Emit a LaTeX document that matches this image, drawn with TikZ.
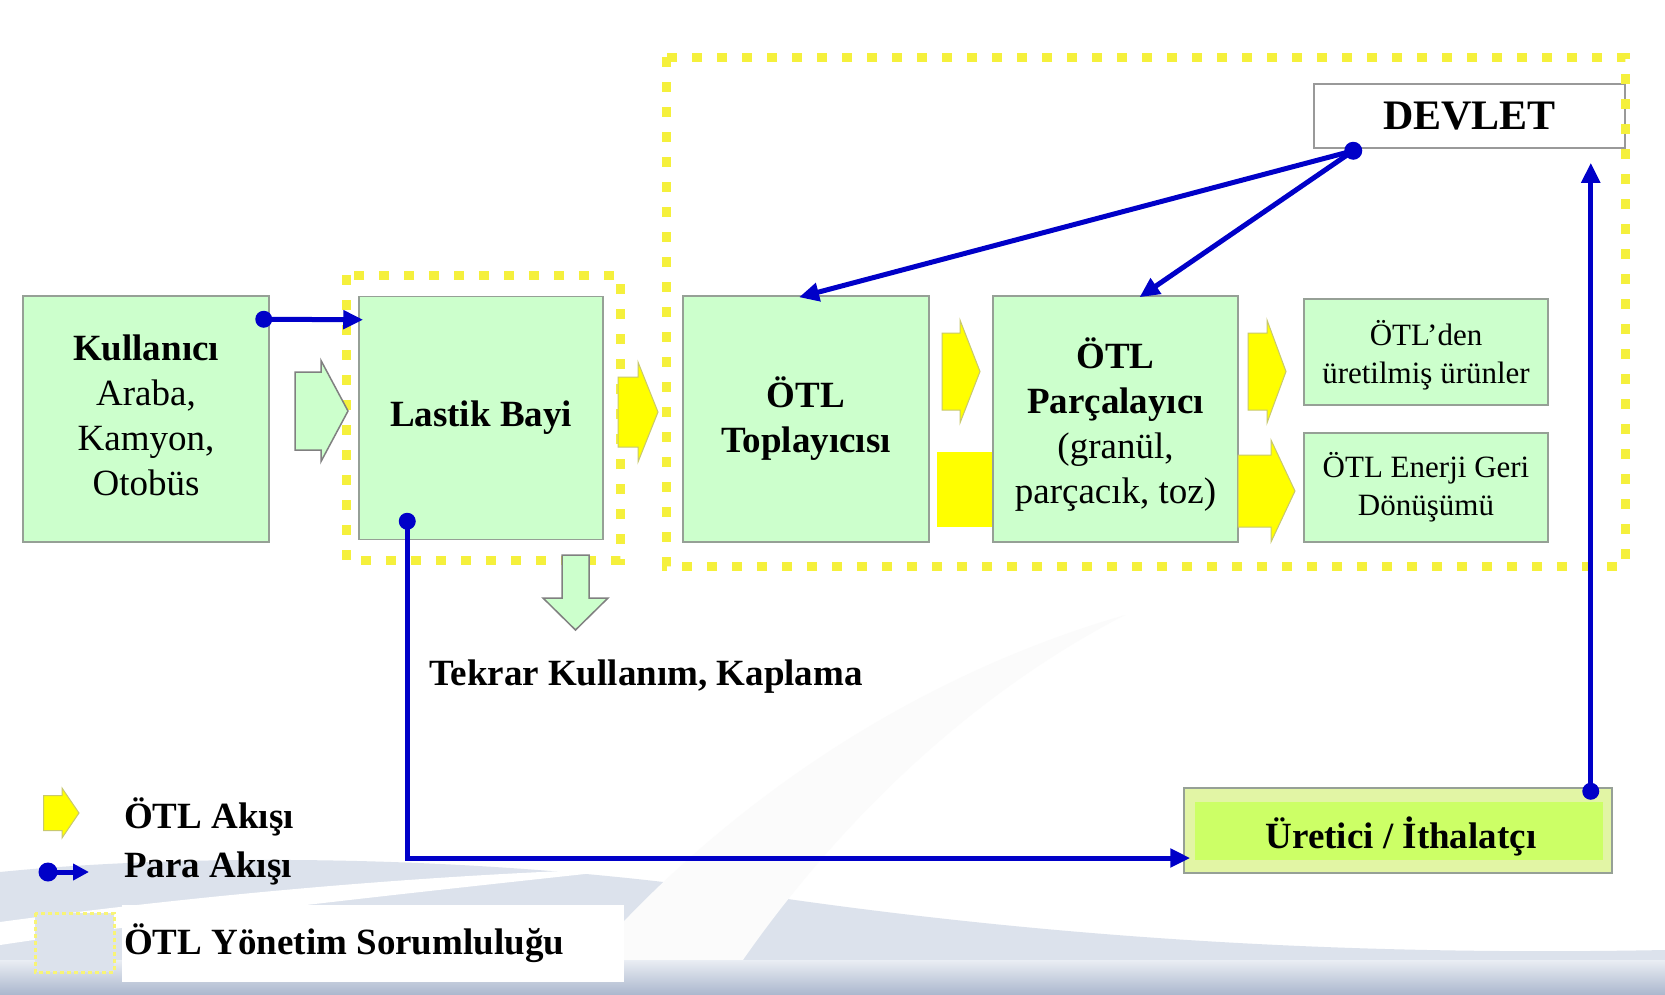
\documentclass[tikz,border=0pt]{standalone}
\usepackage{fontspec}
\setmainfont{Liberation Serif}
\usetikzlibrary{arrows.meta}

\definecolor{kutuyesil}{RGB}{204,255,204}
\definecolor{kenar}{RGB}{150,160,150}
\definecolor{otlsari}{RGB}{255,255,0}
\definecolor{sarikenar}{RGB}{200,200,110}
\definecolor{noktasari}{RGB}{245,240,60}
\definecolor{parablue}{RGB}{0,0,200}
\definecolor{limdis}{RGB}{226,245,165}
\definecolor{limic}{RGB}{204,255,102}
\definecolor{swoosh}{RGB}{220,226,236}
\definecolor{swooshkoyu}{RGB}{172,184,206}

\tikzset{
  kutu/.style={draw=kenar, fill=kutuyesil, line width=1.5pt, inner sep=0pt},
  yazi/.style={align=center, inner sep=0pt},
  kucukyazi/.style={font=\fontsize{31}{38}\selectfont},
  sorumluluk/.style={draw=noktasari, line width=9pt, dash pattern=on 10pt off 15pt},
  para/.style={draw=parablue, line width=5pt, -{Triangle[length=20pt,width=18pt]}},
  akis/.style={fill=otlsari, draw=sarikenar, line width=1pt},
  ikinci/.style={fill=kutuyesil, draw=gray, line width=1.5pt},
}

% block arrow: style, left x, head x, tip x, mid y, body half, head half
\newcommand{\akisok}[7]{%
  \filldraw[#1] (#2,#5-#6) -- (#3,#5-#6) -- (#3,#5-#7) -- (#4,#5)
    -- (#3,#5+#7) -- (#3,#5+#6) -- (#2,#5+#6) -- cycle;}

\begin{document}
\begin{tikzpicture}[x=1pt, y=-1pt, font=\fontsize{37}{45}\selectfont]
	\useasboundingbox (0,0) rectangle (1665,994);
	\fill[white] (0,0) rectangle (1665,994);
	% background swoosh
	\fill[swoosh] (0,872) .. controls (200,852) and (500,855) .. (760,895) .. controls (1100,945) and (1400,955) .. (1665,950) -- (1665,994) -- (0,994) -- cycle;
	\fill[white] (0,922) .. controls (200,895) and (420,875) .. (640,868) .. controls (420,892) and (200,915) .. (0,945) -- cycle;
	\fill[gray!3] (560,994) .. controls (700,820) and (900,680) .. (1125,615) .. controls (960,700) and (820,840) .. (720,994) -- cycle;
	\shade[top color=swoosh!60, bottom color=swooshkoyu] (0,960) rectangle (1665,994);

	% hidden yellow flow under the shredder
	\fill[otlsari] (937,452) rectangle (1000,527);

	\node[kutu, minimum width=246pt, minimum height=246pt] (kul) at (146,419) {};
	\node[yazi] (kulyazi) at ([yshift=4pt]kul.center) {\textbf{Kullanıcı}\\Araba,\\Kamyon,\\Otobüs};
	\node[kutu, minimum width=244pt, minimum height=243pt] (bayi) at (481,418) {};
	\node[yazi] (bayiyazi) at (bayi.center) {\textbf{Lastik Bayi}};
	\node[kutu, minimum width=246pt, minimum height=246pt] (topla) at (806,419) {};
	\node[yazi] (toplayazi) at (topla.center) {\textbf{ÖTL}\\\textbf{Toplayıcısı}};
	\node[kutu, minimum width=245pt, minimum height=246pt] (parca) at (1115.5,419) {};
	\node[yazi] (parcayazi) at ([yshift=-6pt]parca.center) {\textbf{ÖTL}\\\textbf{Parçalayıcı}\\(granül,\\parçacık, toz)};
	\node[kutu, minimum width=244pt, minimum height=106pt] (urun) at (1426,352) {};
	\node[yazi, kucukyazi] (urunyazi) at ([yshift=-3pt]urun.center) {ÖTL’den\\üretilmiş ürünler};
	\node[kutu, minimum width=244pt, minimum height=109pt] (enerji) at (1426,487.5) {};
	\node[yazi, kucukyazi] (enerjiyazi) at (enerji.center) {ÖTL Enerji Geri\\Dönüşümü};
	\node[draw=gray!80, fill=white, line width=1.5pt, minimum width=311pt, minimum height=64pt,
		font=\fontsize{42}{42}\selectfont\bfseries] (devlet) at (1469.5,116) {DEVLET};
	\node[draw=kenar, fill=limdis, line width=1.5pt, minimum width=428pt, minimum height=85pt] (uretici) at (1398,830.5) {};
	\node[fill=limic, minimum width=408pt, minimum height=58pt] (ureticiic) at (1399,831) {};
	\node (uyazi) at (1401,836) {\textbf{Üretici / İthalatçı}};
	\node (tekrar) at (646,677) {\textbf{Tekrar Kullanım, Kaplama}};

	% responsibility frames
	\draw[sorumluluk] (346,275) rectangle (620,560);
	\draw[sorumluluk] (666,57) rectangle (1625,566);

	% tyre flow
	\akisok{ikinci}{295}{321}{348}{411}{39}{50.5}
	\akisok{akis}{618}{638}{658}{412}{35}{50}
	\akisok{akis}{942}{960}{980}{371.5}{38.5}{51.5}
	\akisok{akis}{1248}{1267}{1286}{371.5}{38.5}{51.5}
	\akisok{akis}{1238}{1271}{1295}{491}{36}{51}
	\filldraw[ikinci] (562,555) -- (589,555) -- (589,598) -- (608,598) -- (575.5,630) -- (543,598) -- (562,598) -- cycle;

	% money flow
	\coordinate (p1) at ([xshift=-6pt,yshift=-24pt]kul.north east);
	\draw[para] (p1) -- ([xshift=5pt,yshift=-24pt]bayi.north west);
	\fill[parablue] (p1) circle (8.5pt);
	\coordinate (p2) at ([xshift=49pt,yshift=19pt]bayi.south west);
	\draw[para] (p2) |- ([xshift=7pt,yshift=-27.5pt]uretici.west);
	\fill[parablue] (p2) circle (8.5pt);
	\coordinate (p3) at ([xshift=-22pt,yshift=-4pt]uretici.north east);
	\draw[para] (p3) -- ([xshift=-35pt,yshift=-14pt]devlet.south east);
	\fill[parablue] (p3) circle (8.5pt);
	\coordinate (p4) at ([xshift=40pt,yshift=-2pt]devlet.south west);
	\draw[para] (p4) -- ([xshift=-7pt,yshift=-2pt]topla.north);
	\draw[para] (p4) -- ([xshift=24pt,yshift=-2pt]parca.north);
	\fill[parablue] (p4) circle (9pt);

	% legend
	\akisok{akis}{43.5}{62}{79}{813}{17.5}{25}
	\node[anchor=west, inner sep=0pt] (lakis) at (124,817) {\textbf{ÖTL Akışı}};
	\coordinate (lp) at (48,872);
	\draw[para, line width=5pt, -{Triangle[length=16pt,width=16pt]}] (lp) -- (89,872);
	\fill[parablue] (lp) circle (9.5pt);
	\node[anchor=west, inner sep=0pt] (lpara) at (124,868) {\textbf{Para Akışı}};
	\filldraw[fill=swoosh, draw=noktasari!70, line width=3pt, dash pattern=on 4pt off 3pt] (35,913) rectangle (114,972);
	\fill[white] (122,905) rectangle (624,982);
	\node[anchor=west, inner sep=0pt] (lsorum) at (124,943) {\textbf{ÖTL Yönetim Sorumluluğu}};
\end{tikzpicture}
\end{document}
